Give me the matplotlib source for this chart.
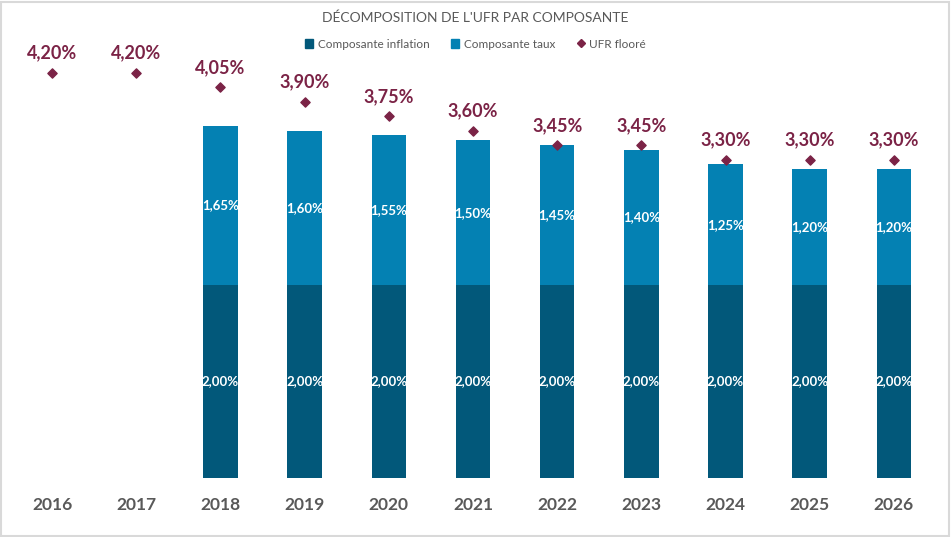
import numpy as np
import matplotlib.pyplot as plt
from matplotlib.lines import Line2D
from matplotlib.patches import Patch, Rectangle

# Data (in %)
years = ["2016", "2017", "2018", "2019", "2020", "2021", "2022", "2023", "2024", "2025", "2026"]
inflation = [np.nan, np.nan, 2.00, 2.00, 2.00, 2.00, 2.00, 2.00, 2.00, 2.00, 2.00]
taux = [np.nan, np.nan, 1.65, 1.60, 1.55, 1.50, 1.45, 1.40, 1.25, 1.20, 1.20]
ufr = [4.20, 4.20, 4.05, 3.90, 3.75, 3.60, 3.45, 3.45, 3.30, 3.30, 3.30]

c_infl = "#02587A"
c_taux = "#0481B3"
c_ufr = "#7B2346"
c_grey = "#595959"

def pct(v):
    return f"{v:.2f}%".replace(".", ",")

plt.rcParams['font.family'] = ['Lato', 'DejaVu Sans']

fig = plt.figure(figsize=(9.51, 5.37), dpi=100)
fig.patches.append(Rectangle((0.001, 0.002), 0.997, 0.995, transform=fig.transFigure,
                             fill=False, edgecolor="#D9D9D9", linewidth=1.5))

ax = fig.add_axes([10 / 951, 59 / 537, 926 / 951, 418 / 537])
x = np.arange(len(years))
w = 0.41

infl = np.array(inflation)
tx = np.array(taux)
ax.bar(x, infl, width=w, color=c_infl, label="Composante inflation")
ax.bar(x, tx, width=w, bottom=infl, color=c_taux, label="Composante taux")
ax.scatter(x, ufr, marker="D", s=22, color=c_ufr, zorder=3, label="UFR flooré", clip_on=False)

for i in x:
    if not np.isnan(infl[i]):
        ax.text(i, infl[i] / 2, pct(infl[i]), ha="center", va="center",
                color="white", fontsize=9.5, fontweight="bold")
        ax.text(i, infl[i] + tx[i] / 2, pct(tx[i]), ha="center", va="center",
                color="white", fontsize=9.5, fontweight="bold")
    ax.annotate(pct(ufr[i]), (i, ufr[i]), xytext=(0, 8), textcoords="offset points",
                ha="center", va="bottom", color=c_ufr, fontsize=13, fontweight="bold",
                annotation_clip=False)

ax.set_xlim(-0.5, len(years) - 0.5)
ax.set_ylim(0, 418 / 96.5)
ax.set_xticks(x)
ax.set_xticklabels(years, fontsize=12.5, fontweight="bold", color=c_grey)
ax.tick_params(axis="x", length=0, pad=14)
ax.set_yticks([])
for s in ax.spines.values():
    s.set_visible(False)

fig.text(0.5, 1 - 18 / 537, "DÉCOMPOSITION DE L'UFR PAR COMPOSANTE", ha="center", va="center",
         fontsize=10, color=c_grey)

handles = [Patch(color=c_infl, label="Composante inflation"),
           Patch(color=c_taux, label="Composante taux"),
           Line2D([], [], marker="D", color=c_ufr, linestyle="none", markersize=4, label="UFR flooré")]
fig.legend(handles=handles, loc="center", bbox_to_anchor=(0.5, 1 - 44 / 537), ncol=3,
           frameon=False, fontsize=8.5, handlelength=0.7, handleheight=0.7,
           handletextpad=0.4, columnspacing=1.8, labelcolor=c_grey)

fig.savefig("out.png", dpi=100)
